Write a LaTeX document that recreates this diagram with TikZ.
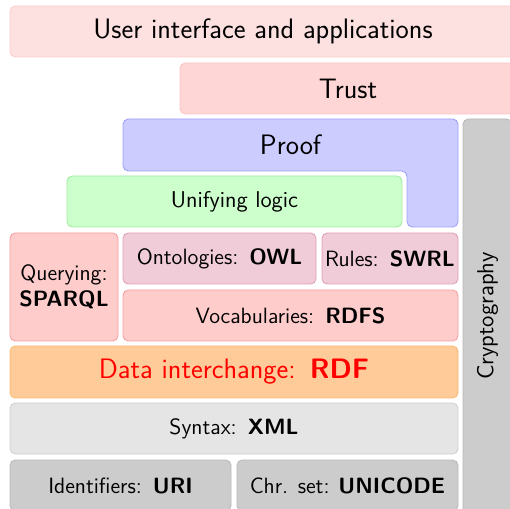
\documentclass[tikz,border=0pt]{standalone}
\definecolor{uifill}{RGB}{253,224,224}
\definecolor{uidraw}{RGB}{250,205,205}
\definecolor{trustfill}{RGB}{255,214,214}
\definecolor{trustdraw}{RGB}{250,195,195}
\definecolor{prooffill}{RGB}{204,204,255}
\definecolor{proofdraw}{RGB}{160,160,250}
\definecolor{unifill}{RGB}{204,255,204}
\definecolor{unidraw}{RGB}{160,235,160}
\definecolor{pinkfill}{RGB}{255,204,204}
\definecolor{pinkdraw}{RGB}{245,160,160}
\definecolor{ontofill}{RGB}{240,204,216}
\definecolor{ontodraw}{RGB}{225,160,180}
\definecolor{datafill}{RGB}{255,204,153}
\definecolor{datadraw}{RGB}{250,185,120}
\definecolor{synfill}{RGB}{229,229,229}
\definecolor{syndraw}{RGB}{208,208,208}
\definecolor{idfill}{RGB}{204,204,204}
\definecolor{iddraw}{RGB}{185,185,185}
\tikzset{
  layer/.style={rectangle, rounded corners=3pt, inner sep=0pt, outer sep=0pt, line width=0.5pt,
    font=\sffamily\fontsize{12.6}{14.5}\selectfont, align=center},
  biglayer/.style={layer, font=\sffamily\fontsize{16}{19}\selectfont},
  lw/.style={minimum width=#1*0.02cm},
  lh/.style={minimum height=#1*0.02cm},
}
\begin{document}
\begin{tikzpicture}[x=0.02cm,y=-0.02cm]
\useasboundingbox (0,0) rectangle (510,509);
\clip (0,0) rectangle (510,509);
% user interface
\node[biglayer, fill=uifill, draw=uidraw, lw=506, lh=51] (ui) at (263,31.5) {User interface and applications};
% trust
\node[biglayer, fill=trustfill, draw=trustdraw, lw=336, lh=51] (trust) at (348,88.5) {Trust};
% proof
\draw[rounded corners=3pt, fill=prooffill, draw=proofdraw, line width=0.5pt]
  (123,119) -- (458,119) -- (458,227) -- (407,227) -- (407,171) -- (123,171) -- cycle;
\node[font=\sffamily\fontsize{16}{19}\selectfont, inner sep=0pt] (proof) at (290.5,145) {Proof};
% cryptography
\node[layer, fill=idfill, draw=iddraw, lw=49, lh=394] (crypto) at (487.5,316) {};
\node[font=\sffamily\fontsize{13.2}{15}\selectfont, rotate=90, inner sep=0pt] (cryptotext) at (crypto.center) {Cryptography};
% unifying logic
\node[layer, fill=unifill, draw=unidraw, lw=335, lh=51, font=\sffamily\fontsize{13}{15}\selectfont] (uni) at (234.5,201.5) {Unifying logic};
% querying
\node[layer, fill=pinkfill, draw=pinkdraw, lw=108, lh=108] (query) at (64,287) {Querying:\\\textbf{SPARQL}};
% ontologies
\node[layer, fill=ontofill, draw=ontodraw, lw=193, lh=51] (onto) at (219.5,258.5) {Ontologies:\enspace\textbf{OWL}};
% rules
\node[layer, fill=ontofill, draw=ontodraw, lw=136, lh=51] (rules) at (390,258.5) {Rules:\enspace\textbf{SWRL}};
% vocabularies
\node[layer, fill=pinkfill, draw=pinkdraw, lw=335, lh=51] (vocab) at (290.5,315.5) {Vocabularies:\enspace\textbf{RDFS}};
% data interchange
\node[biglayer, fill=datafill, draw=datadraw, lw=448, lh=52, text=red] (data) at (234,372) {Data interchange:\enspace\textbf{RDF}};
% syntax
\node[layer, fill=synfill, draw=syndraw, lw=448, lh=51] (syntax) at (234,428.5) {Syntax:\enspace\textbf{XML}};
% identifiers
\node[layer, fill=idfill, draw=iddraw, lw=221, lh=51] (ident) at (120.5,485.5) {Identifiers:\enspace\textbf{URI}};
% character set
\node[layer, fill=idfill, draw=iddraw, lw=221, lh=51] (chr) at (347.5,485.5) {Chr. set:\hspace{0.4em}\textbf{UNICODE}};
\end{tikzpicture}
\end{document}
